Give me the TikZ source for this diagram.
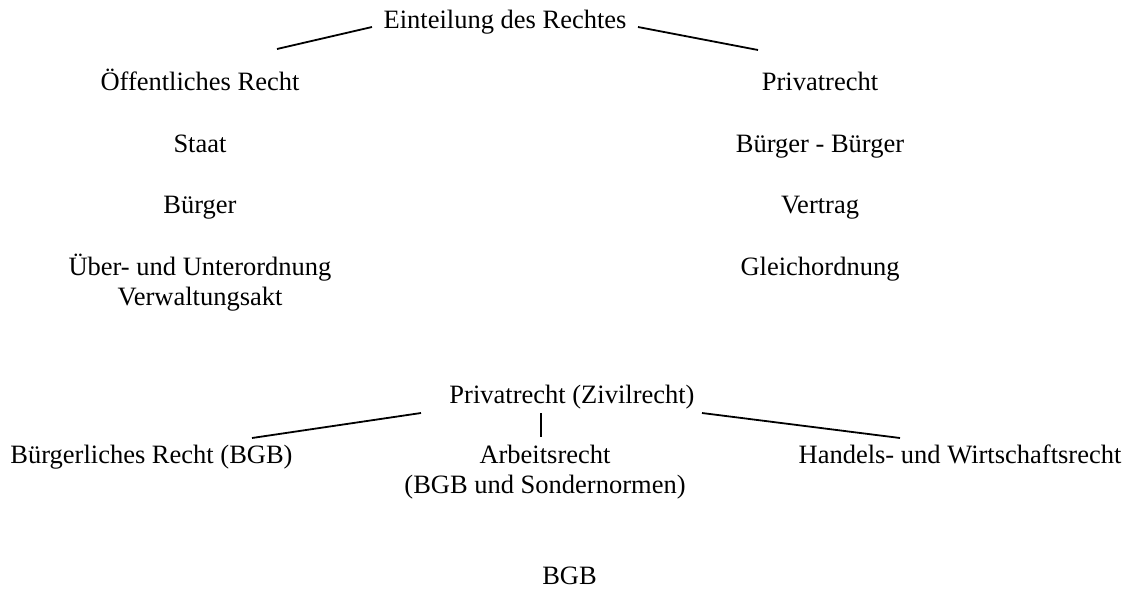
\documentclass[tikz,border=0pt]{standalone}
\usepackage{fontspec}
\setmainfont{Liberation Serif}
\begin{document}
\begin{tikzpicture}[x=1pt,y=-1pt,
  lbl/.style={inner sep=0pt,anchor=base,font=\fontsize{26.5}{30}\selectfont,align=center},
  conn/.style={line width=1.8pt}]
\useasboundingbox (0,0) rectangle (1131,589);
\node[lbl] (root) at (505,28) {Einteilung des Rechtes};
\node[lbl] (oer) at (200,90) {Öffentliches Recht};
\node[lbl] (pr) at (820,90) {Privatrecht};
\node[lbl] (staat) at (200,152) {Staat};
\node[lbl] (bb) at (820,152) {Bürger - Bürger};
\node[lbl] (buerger) at (200,213) {Bürger};
\node[lbl] (vertrag) at (820,213) {Vertrag};
\node[lbl] (ueber) at (200,275) {Über- und Unterordnung};
\node[lbl] (verw) at (200,305) {Verwaltungsakt};
\node[lbl] (gleich) at (820,275) {Gleichordnung};
\node[lbl] (zivil) at (572,403) {Privatrecht (Zivilrecht)};
\node[lbl] (bgbr) at (151.5,463) {Bürgerliches Recht (BGB)};
\node[lbl] (arb) at (545,463) {Arbeitsrecht};
\node[lbl] (arb2) at (545,493) {(BGB und Sondernormen)};
\node[lbl] (hw) at (960,463) {Handels- und Wirtschaftsrecht};
\node[lbl] (bgb) at (569.5,584) {BGB};
\coordinate (t1) at (372,27);
\coordinate (t2) at (638,27);
\coordinate (o1) at (277,49);
\coordinate (p1) at (758,50);
\draw[conn] (t1) -- (o1);
\draw[conn] (t2) -- (p1);
\coordinate (z1) at (421,413);
\coordinate (z2) at (541,413);
\coordinate (z3) at (702,413);
\coordinate (b1) at (252,438);
\coordinate (a1) at (541,437);
\coordinate (h1) at (900,438);
\draw[conn] (z1) -- (b1);
\draw[conn] (z2) -- (a1);
\draw[conn] (z3) -- (h1);
\end{tikzpicture}
\end{document}
